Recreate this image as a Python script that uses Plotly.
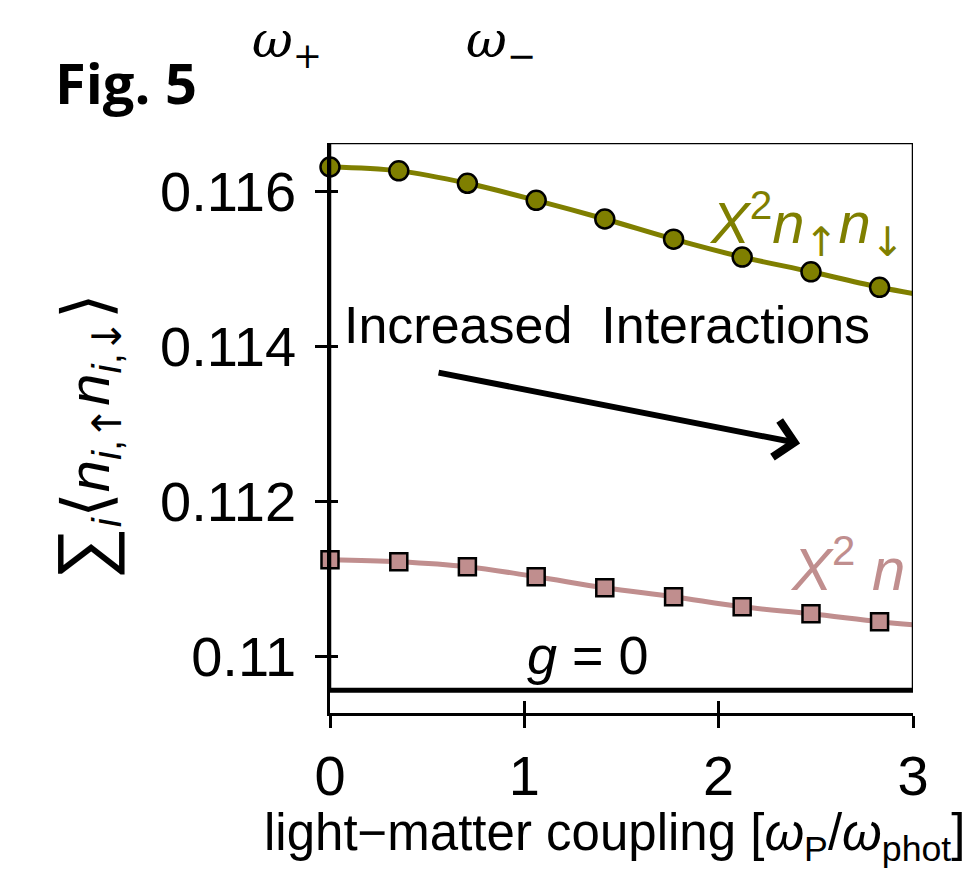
import plotly.graph_objects as go

# ---- data ----
coupling = [0.0, 0.354, 0.707, 1.061, 1.414, 1.768, 2.121, 2.475, 2.828]
docc_x2nn = [0.11631, 0.11626, 0.11610, 0.11588, 0.11564, 0.11538, 0.11515, 0.11496, 0.11476]
docc_x2n = [0.111252, 0.111226, 0.111161, 0.111032, 0.110890, 0.110774, 0.110645, 0.110555, 0.110452]
curve_x = [0.0, 0.354, 0.707, 1.061, 1.414, 1.768, 2.121, 2.475, 2.828, 3.0]
curve_x2nn = [0.11631, 0.11626, 0.11610, 0.11588, 0.11564, 0.11538, 0.11515, 0.11496, 0.11476, 0.11468]
curve_x2n = [0.111252, 0.111226, 0.111161, 0.111032, 0.110890, 0.110774, 0.110645, 0.110555, 0.110452, 0.110413]
g0_x = [0.0, 3.0]
g0_y = [0.10957, 0.10957]
x_ticks = [0, 1, 2, 3]
x_ticklabels = ["0", "1", "2", "3"]
y_ticks = [0.110, 0.112, 0.114, 0.116]
y_ticklabels = ["0.11", "0.112", "0.114", "0.116"]

X_RANGE = [0.0, 3.0]
Y_RANGE = [0.109277, 0.116619]

OLIVE = "#7f7f00"
ROSY = "#c08e8e"
FONT = "Liberation Sans"

# page body has an 8px margin: plot area target is x 330..913, y 143..713 in the window
OFF = 8
L, R, T, B = 330 - OFF, 979 - 913 + OFF, 143 - OFF, 873 - 713 + OFF
PW, PH = 979 - L - R, 873 - T - B


def px(xw):
    return (xw - OFF - L) / PW


def py(yw):
    return (873 - B - (yw - OFF)) / PH


fig = go.Figure()

fig.add_trace(go.Scatter(x=curve_x, y=curve_x2nn, mode="lines", line=dict(color=OLIVE, width=5, shape="spline"),
                         hoverinfo="skip", showlegend=False, cliponaxis=False))
fig.add_trace(go.Scatter(x=coupling, y=docc_x2nn, mode="markers",
                         marker=dict(symbol="circle", size=19, color=OLIVE, line=dict(color="black", width=2.5)),
                         showlegend=False, cliponaxis=False))
fig.add_trace(go.Scatter(x=curve_x, y=curve_x2n, mode="lines", line=dict(color=ROSY, width=5, shape="spline"),
                         hoverinfo="skip", showlegend=False, cliponaxis=False))
fig.add_trace(go.Scatter(x=coupling, y=docc_x2n, mode="markers",
                         marker=dict(symbol="square", size=17, color=ROSY, line=dict(color="black", width=2.5)),
                         showlegend=False, cliponaxis=False))
# g = 0 reference line, drawn on the overlay axes (inside ticks)
fig.add_trace(go.Scatter(x=g0_x, y=g0_y, mode="lines", line=dict(color="black", width=5),
                         xaxis="x2", yaxis="y2", showlegend=False, hoverinfo="skip", cliponaxis=False))

axis_common = dict(showgrid=False, zeroline=False, showline=True, linecolor="black", linewidth=2.5,
                   tickcolor="black", tickwidth=2.5)

ARW = "font-family:DejaVu Sans"
ytitle = ("<span style='font-size:74px'>\u2211</span><sub><i>i</i></sub>"
          "<span style='font-size:66px;font-family:DejaVu Sans;font-weight:200'>\u27e8</span>"
          "<i>n</i><sub><i>i</i>,<span style='" + ARW + "'>\u2191</span></sub>"
          "<i>n</i><sub><i>i</i>,<span style='" + ARW + "'>\u2193</span></sub>"
          "<span style='font-size:66px;font-family:DejaVu Sans;font-weight:200'>\u27e9</span>")
xtitle = "light\u2212matter coupling [<i>\u03c9</i><sub>P</sub>/<i>\u03c9</i><sub>phot</sub>]"

fig.update_layout(
    width=979, height=873,
    margin=dict(l=L, r=R, t=T, b=B, autoexpand=False),
    paper_bgcolor="white", plot_bgcolor="white",
    font=dict(family=FONT, color="black"),
    xaxis=dict(range=X_RANGE, tickvals=x_ticks, ticktext=x_ticklabels, ticks="outside", ticklen=12,
               tickfont=dict(size=56, family=FONT), **axis_common),
    yaxis=dict(range=Y_RANGE, tickvals=y_ticks, ticktext=y_ticklabels, ticks="outside", ticklen=12,
               tickfont=dict(size=56, family=FONT), ticklabelstandoff=8, **axis_common),
    xaxis2=dict(range=X_RANGE, overlaying="x", anchor="y2", tickvals=x_ticks, ticks="inside", ticklen=12,
                showticklabels=False, **axis_common),
    yaxis2=dict(range=Y_RANGE, overlaying="y", anchor="x2", tickvals=y_ticks, ticks="inside", ticklen=8,
                showticklabels=False, **axis_common),
)

# frame (top and right edges, bottom on the g=0 level)
fig.add_shape(type="rect", xref="x", yref="y", x0=X_RANGE[0], x1=X_RANGE[1], y0=g0_y[0], y1=Y_RANGE[1],
              line=dict(color="black", width=2.5), layer="above")

annotations = [
    # axis titles
    dict(text=xtitle, xref="paper", yref="paper", x=px(614), y=py(836), xanchor="center", yanchor="middle",
         showarrow=False, font=dict(size=51, family=FONT)),
    dict(text=ytitle, xref="paper", yref="paper", x=px(86), y=py(437), xanchor="center", yanchor="middle",
         textangle=-90, showarrow=False, font=dict(size=58, family=FONT)),
    # panel texts
    dict(text="<b>Fig. 5</b>", xref="paper", yref="paper", x=px(53), y=py(82),
         xanchor="left", yanchor="middle", showarrow=False, font=dict(size=56, family="Open Sans")),
    dict(text="<i>\u03c9</i><sub>+</sub>", xref="paper", yref="paper", x=px(250), y=py(44),
         xanchor="left", yanchor="middle", showarrow=False, font=dict(size=50, family="DejaVu Serif")),
    dict(text="<i>\u03c9</i><sub>\u2212</sub>", xref="paper", yref="paper", x=px(464), y=py(44),
         xanchor="left", yanchor="middle", showarrow=False, font=dict(size=50, family="DejaVu Serif")),
    dict(text="<i>X</i><sup>2</sup><i>n</i><sub><span style='" + ARW + "'>\u2191</span></sub>"
              "<i>n</i><sub><span style='" + ARW + "'>\u2193</span></sub>", xref="x", yref="y",
         x=2.97, y=0.11558, xanchor="right", yanchor="middle", showarrow=False,
         font=dict(size=58, color=OLIVE, family=FONT)),
    dict(text="Increased&nbsp;&nbsp;Interactions", xref="x", yref="y", x=0.06, y=0.11427,
         xanchor="left", yanchor="middle", showarrow=False, font=dict(size=52, family=FONT)),
    dict(text="<i>X</i><sup>2</sup>&nbsp;<i>n</i>", xref="x", yref="y", x=2.97, y=0.11118,
         xanchor="right", yanchor="middle", showarrow=False, font=dict(size=60, color=ROSY, family=FONT)),
    dict(text="<i>g</i> = 0", xref="x", yref="y", x=1.33, y=0.11003,
         xanchor="center", yanchor="middle", showarrow=False, font=dict(size=54, family=FONT)),
    dict(text="", xref="x", yref="y", axref="x", ayref="y", x=2.419, y=0.112748, ax=0.551, ay=0.113665,
         showarrow=True, arrowhead=4, arrowsize=1.2, arrowwidth=6, arrowcolor="black"),
]
fig.update_layout(annotations=annotations)

fig.write_html("out.html")
